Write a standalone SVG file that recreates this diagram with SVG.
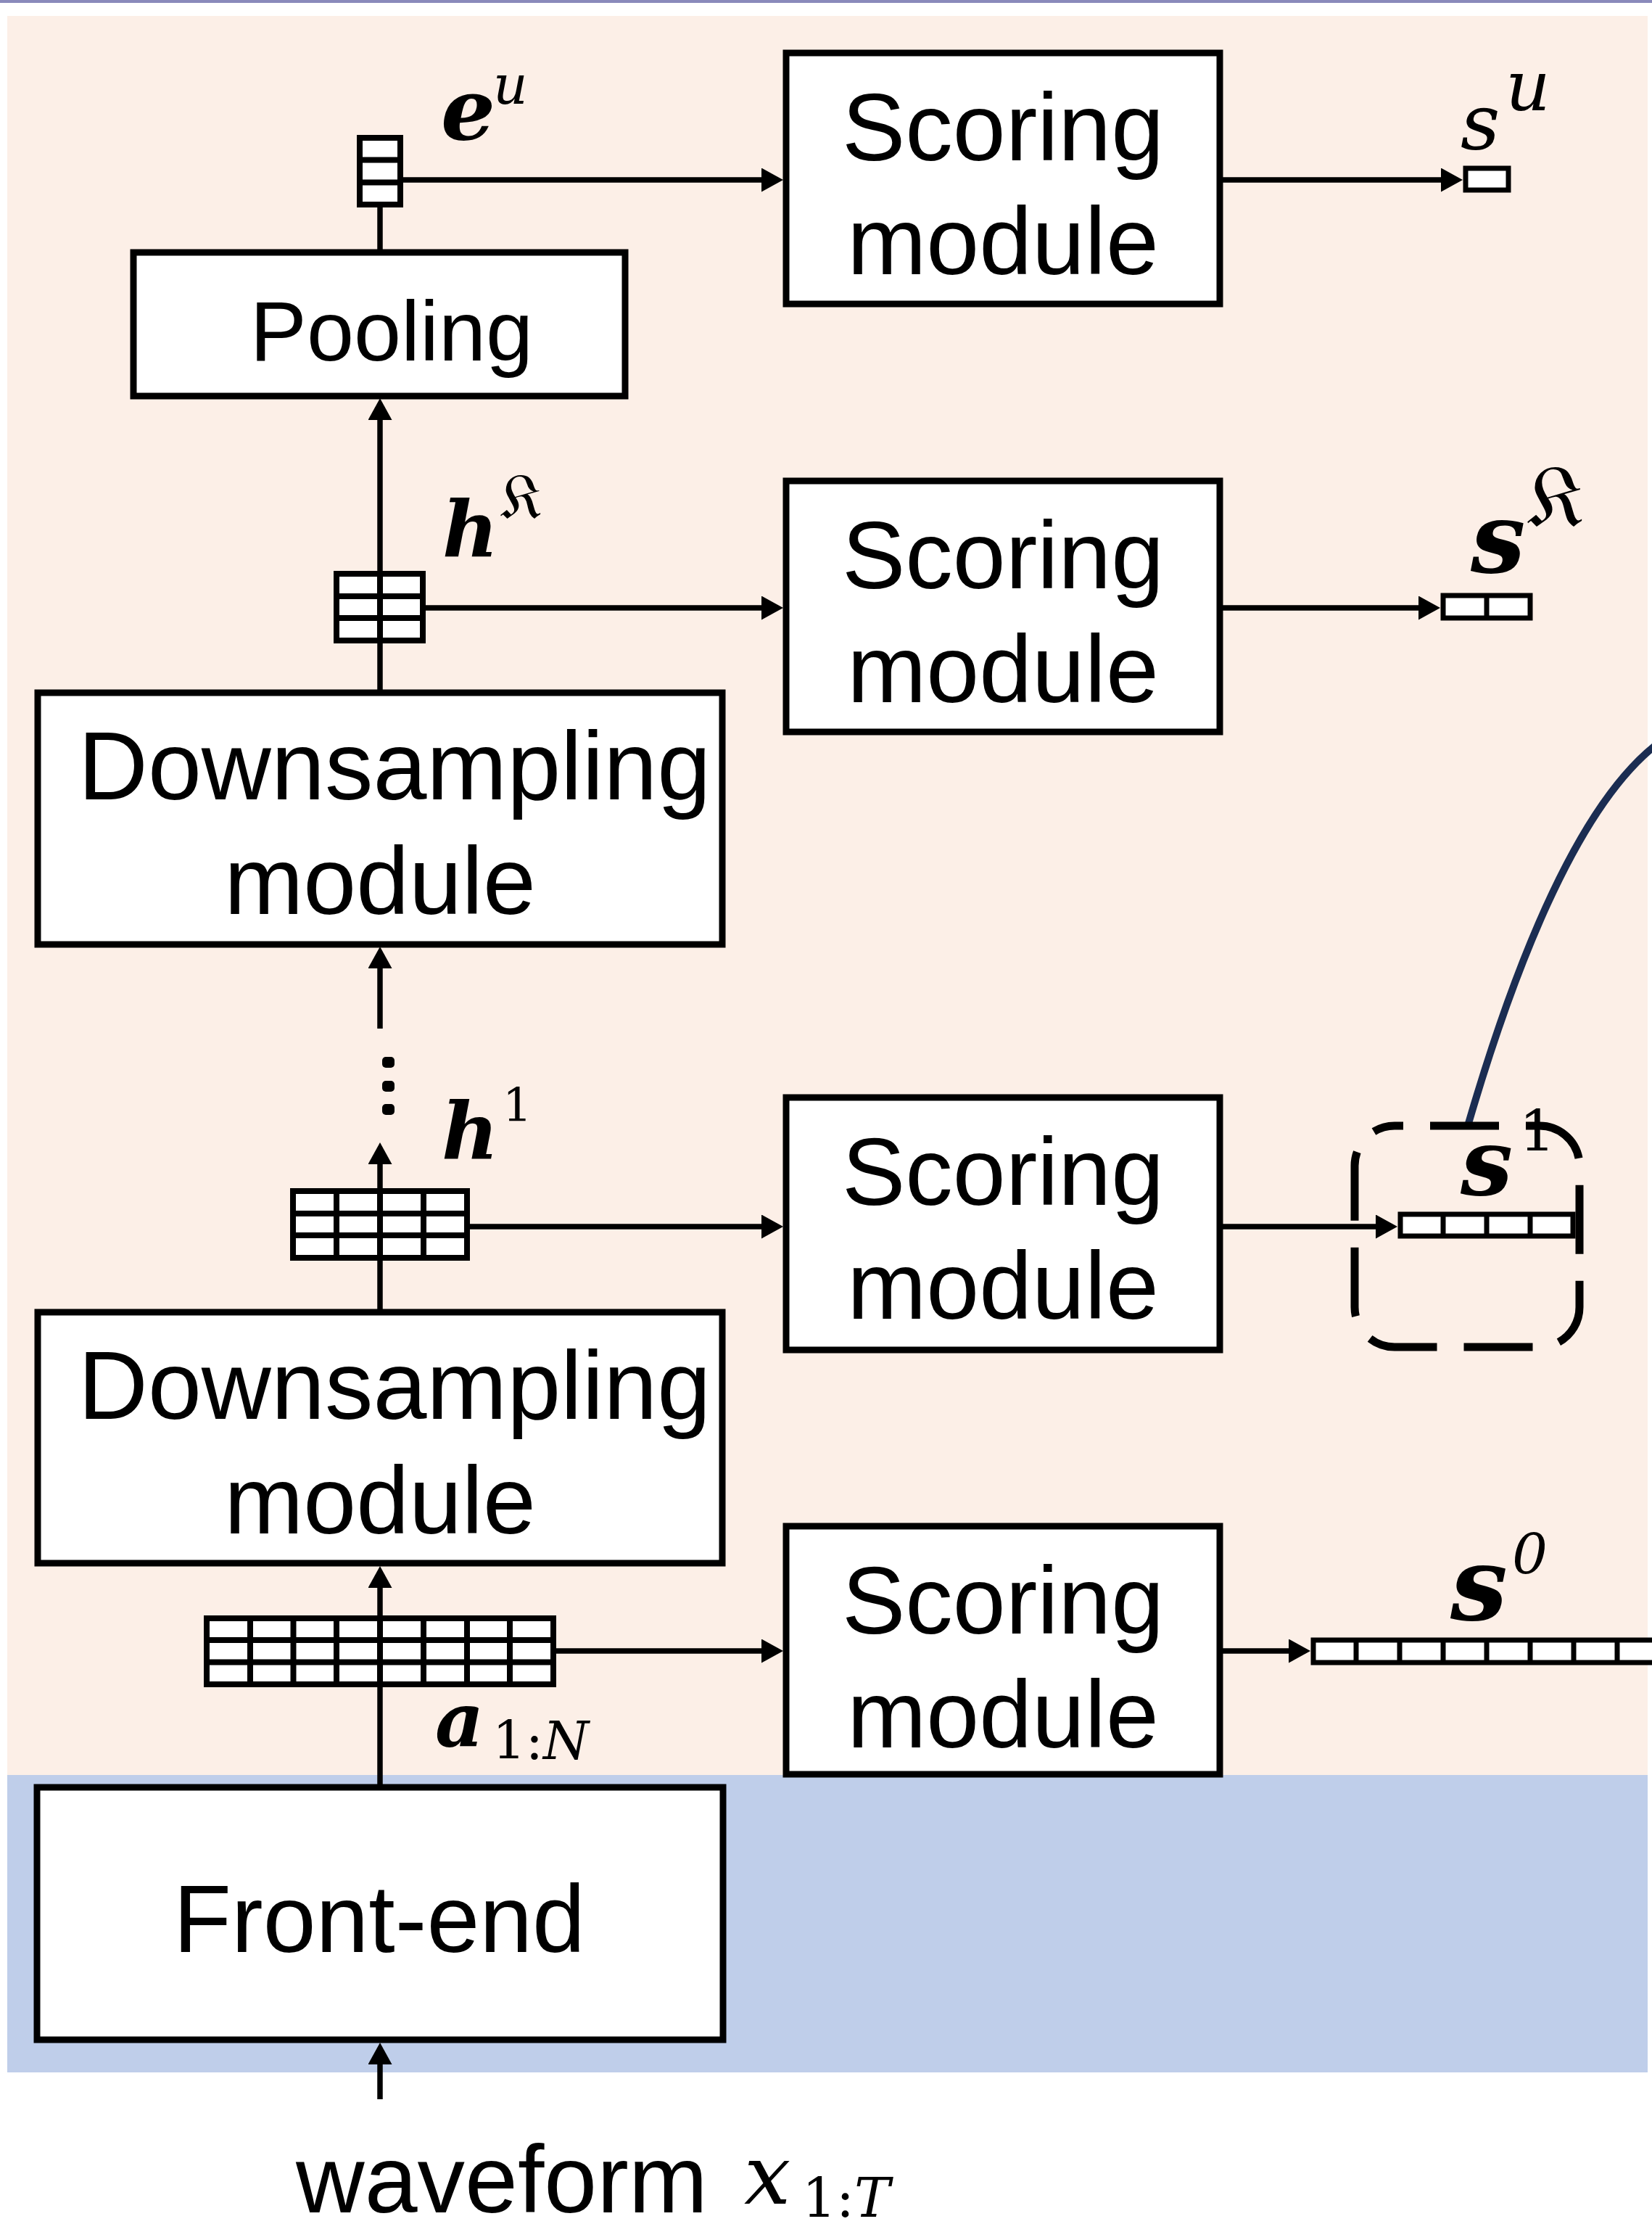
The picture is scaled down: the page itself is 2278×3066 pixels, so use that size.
<svg xmlns="http://www.w3.org/2000/svg" width="2278" height="3066" viewBox="0 0 2278 3066">
<defs>
<marker id="arr" markerUnits="userSpaceOnUse" markerWidth="30" markerHeight="33" refX="6" refY="16.5" orient="auto" viewBox="0 0 30 33"><path d="M0,0 L30,16.5 L0,33 z" fill="#000"/></marker>
</defs>
<style>
.box{fill:#fff;stroke:#000;stroke-width:9}
.lbl{font-family:'Liberation Sans',Arial,sans-serif;font-size:131px;fill:#000;text-anchor:middle}
.con{stroke:#000;stroke-width:7.5;fill:none}
.arr{marker-end:url(#arr)}
.vec{fill:#fff;stroke:#000;stroke-width:8}
.grid{stroke:#000;stroke-width:8;fill:none}
.m{font-family:'DejaVu Serif','Liberation Serif',serif;font-style:italic;fill:#000}
.b{font-weight:bold}
.up{font-style:normal;font-weight:normal}
.frak{font-family:'DejaVu Serif','DejaVu Sans','Noto Sans',serif;font-style:normal;fill:#000}
</style>
<g id="background">
<rect x="0" y="0" width="2278" height="4" fill="#8a8abb"/>
<rect x="10" y="22" width="2262" height="2425" fill="#fcefe7"/>
<rect x="10" y="2447" width="2262" height="410" fill="#bfceea"/>
</g>
<g id="connectors">
<path class="con arr" d="M524,2894 V2840"/>
<path class="con arr" d="M524,2464 V2183"/>
<path class="con arr" d="M524,1809 V1599"/>
<path class="con arr" d="M524,1418 V1329"/>
<path class="con arr" d="M524,955 V573"/>
<path class="con" d="M524,348 V286"/>
<path class="con arr" d="M556,248 H1056"/>
<path class="con arr" d="M1686,248 H1993"/>
<path class="con arr" d="M587,838 H1056"/>
<path class="con arr" d="M1686,838 H1962"/>
<path class="con arr" d="M648,1691 H1056"/>
<path class="con arr" d="M1686,1691 H1903"/>
<path class="con arr" d="M767,2276 H1056"/>
<path class="con arr" d="M1686,2276 H1783"/>
<path d="M2024,1552 C2080,1360 2170,1110 2290,1022" fill="none" stroke="#1b2d52" stroke-width="10"/>
</g>
<g id="frontend">
<rect class="box" x="51" y="2464" width="946" height="348"/>
<text class="lbl" x="523" y="2691">Front-end</text>
</g>
<g id="downsampling2">
<rect class="box" x="52" y="1809" width="944" height="346"/>
<text class="lbl" x="544" y="1956" style="font-size:133px">Downsampling</text>
<text class="lbl" x="524" y="2114">module</text>
</g>
<g id="downsampling1">
<rect class="box" x="52" y="955" width="944" height="347"/>
<text class="lbl" x="544" y="1102" style="font-size:133px">Downsampling</text>
<text class="lbl" x="524" y="1260">module</text>
</g>
<g id="pooling">
<rect class="box" x="184" y="348" width="678" height="198"/>
<text class="lbl" x="540" y="497" style="font-size:117px">Pooling</text>
</g>
<g id="scoring1">
<rect class="box" x="1084" y="73" width="598" height="346"/>
<text class="lbl" x="1383" y="221">Scoring</text>
<text class="lbl" x="1383" y="378">module</text>
</g>
<g id="scoring2">
<rect class="box" x="1084" y="663" width="598" height="346"/>
<text class="lbl" x="1383" y="811">Scoring</text>
<text class="lbl" x="1383" y="968">module</text>
</g>
<g id="scoring3">
<rect class="box" x="1084" y="1513" width="598" height="348"/>
<text class="lbl" x="1383" y="1661">Scoring</text>
<text class="lbl" x="1383" y="1818">module</text>
</g>
<g id="scoring4">
<rect class="box" x="1084" y="2104" width="598" height="342"/>
<text class="lbl" x="1383" y="2252">Scoring</text>
<text class="lbl" x="1383" y="2409">module</text>
</g>
<g id="vec-eu">
<rect class="vec" x="496" y="190" width="56" height="92"/>
<path class="grid" d="M496,220.5 H552 M496,251.5 H552"/>
<text class="m b" x="608" y="192" font-size="118">e</text>
<text class="m" x="680" y="143" font-size="74">u</text>
</g>
<g id="vec-hK">
<rect class="vec" x="464" y="791" width="119" height="92"/>
<path class="grid" d="M464,822 H583 M464,852 H583 M524,791 V883"/>
<text class="m b" x="610" y="767" font-size="106">h</text>
<text class="frak" x="690" y="715" font-size="88">𝔎</text>
</g>
<g id="dots" fill="#000">
<rect x="527" y="1457" width="17" height="15" rx="5"/>
<rect x="527" y="1490" width="17" height="15" rx="5"/>
<rect x="527" y="1522" width="17" height="15" rx="5"/>
</g>
<g id="vec-h1">
<rect class="vec" x="404" y="1642" width="240" height="92"/>
<path class="grid" d="M404,1673 H644 M404,1703 H644 M464,1642 V1734 M524,1642 V1734 M584,1642 V1734"/>
<text class="m b" x="609" y="1598" font-size="108">h</text>
<text class="m up" x="693" y="1546" font-size="64">1</text>
</g>
<g id="vec-a">
<rect class="vec" x="285" y="2231" width="478" height="91"/>
<path class="grid" d="M285,2261 H763 M285,2291.5 H763 M345,2231 V2322 M404.5,2231 V2322 M464,2231 V2322 M524,2231 V2322 M584,2231 V2322 M644,2231 V2322 M703,2231 V2322"/>
<text class="m b" x="600" y="2408" font-size="104">a</text>
<text class="m" x="679" y="2425" font-size="72"><tspan class="up">1:</tspan>N</text>
</g>
<g id="vec-su">
<rect class="vec" x="2021" y="232" width="59" height="30" style="stroke-width:7"/>
<text class="m" x="2014" y="205" font-size="106">s</text>
<text class="m" x="2076" y="152" font-size="96">u</text>
</g>
<g id="vec-sK">
<rect class="vec" x="1990" y="821" width="120" height="31" style="stroke-width:7"/>
<path class="grid" d="M2050,821 V852" style="stroke-width:7"/>
<text class="m b" x="2028" y="789" font-size="134">s</text>
<text class="frak" x="2106" y="726" font-size="120">𝔎</text>
</g>
<g id="vec-s1">
<rect x="1868" y="1552" width="310" height="305" rx="55" fill="none" stroke="#000" stroke-width="11" stroke-dasharray="95 37" stroke-dashoffset="83"/>
<rect class="vec" x="1931" y="1674" width="238" height="30" style="stroke-width:7"/>
<path class="grid" d="M1990,1674 V1704 M2050,1674 V1704 M2110,1674 V1704" style="stroke-width:7"/>
<text class="m b" x="2014" y="1647" font-size="128">s</text>
<text class="m up" x="2095" y="1587" font-size="78">1</text>
</g>
<g id="vec-s0">
<rect class="vec" x="1811" y="2261" width="500" height="31" style="stroke-width:7"/>
<path class="grid" d="M1870,2261 V2292 M1930,2261 V2292 M1990,2261 V2292 M2050,2261 V2292 M2110,2261 V2292 M2170,2261 V2292 M2230,2261 V2292" style="stroke-width:7"/>
<text class="m b" x="2000" y="2233" font-size="140">s</text>
<text class="m" x="2085" y="2169" font-size="77">0</text>
</g>
<g id="input">
<text class="lbl" x="692" y="3050" style="font-size:131px">waveform</text>
<text class="m" x="1026" y="3038" font-size="114">x</text>
<text class="m" x="1106" y="3056" font-size="74"><tspan class="up">1:</tspan>T</text>
</g>
</svg>
